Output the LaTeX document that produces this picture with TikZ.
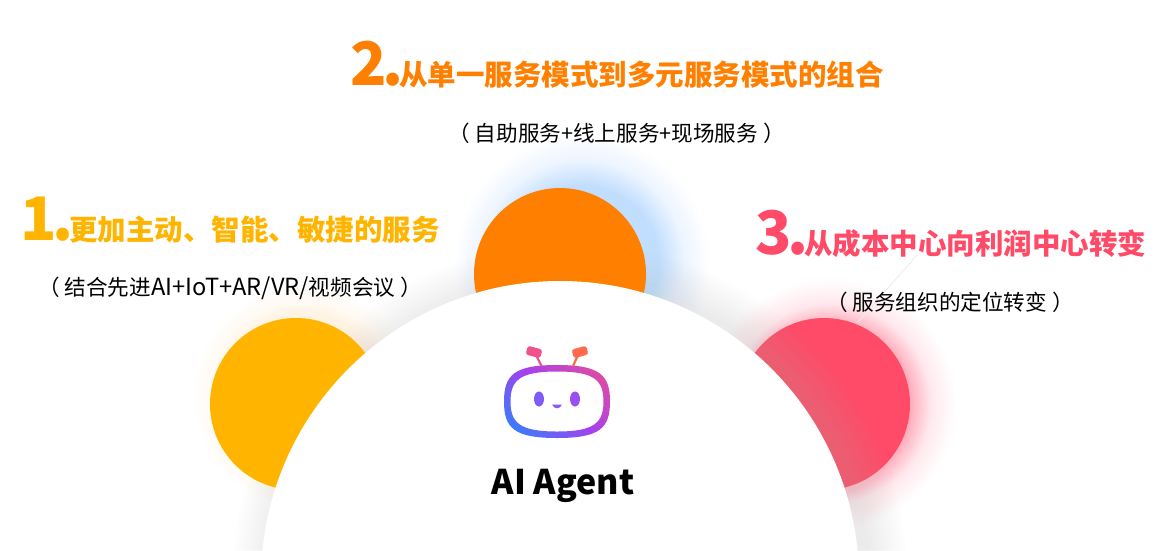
\documentclass[tikz,border=0pt]{standalone}
\usepackage{fontspec}
\setmainfont{Noto Sans CJK SC}
\definecolor{cyellow}{HTML}{FFB400}
\definecolor{corange}{HTML}{FF8000}
\definecolor{cred}{HTML}{FF4A68}
\definecolor{rbBlue}{HTML}{1E8CFF}
\definecolor{rbPurple}{HTML}{A640EE}
\definecolor{rbPink}{HTML}{F0508C}
\definecolor{rbOrange}{HTML}{FF6A4D}
\definecolor{eyeL}{HTML}{7F5CF5}
\definecolor{eyeR}{HTML}{9A50F0}
\definecolor{mouthC}{HTML}{8A58F2}
\pgfdeclareradialshading{glowblue}{\pgfpoint{0bp}{0bp}}{rgb(0bp)=(0.76,0.87,1);rgb(15bp)=(0.76,0.87,1);rgb(20bp)=(0.93,0.96,1);rgb(25bp)=(1,1,1);rgb(100bp)=(1,1,1)}
\pgfdeclareradialshading{glowred}{\pgfpoint{0bp}{0bp}}{rgb(0bp)=(1,0.68,0.74);rgb(16bp)=(1,0.68,0.74);rgb(20bp)=(1,0.91,0.93);rgb(25bp)=(1,1,1);rgb(100bp)=(1,1,1)}
\pgfdeclareradialshading{glowyellow}{\pgfpoint{0bp}{0bp}}{rgb(0bp)=(1,0.95,0.88);rgb(18bp)=(1,0.95,0.88);rgb(21bp)=(1,0.98,0.95);rgb(25bp)=(1,1,1);rgb(100bp)=(1,1,1)}
\tikzset{
  bignum/.style={anchor=base west,inner sep=0pt,font=\fontsize{60}{60}\selectfont\bfseries},
  headline/.style={anchor=base west,inner sep=0pt,font=\fontsize{28.5}{30}\selectfont\bfseries},
  subline/.style={anchor=center,inner sep=0pt,text=black,font=\fontsize{21.6}{24}\selectfont},
  disc/.style={fill=#1},
  capbar/.style={rounded corners=2.5pt,fill=#1},
}
\newcommand{\pgap}{\hspace{5pt}}
\begin{document}
\begin{tikzpicture}[x=1pt,y=-1pt]
\useasboundingbox (0,0) rectangle (1176,550);
\fill[white] (0,0) rectangle (1176,550);
% glows
\shade[shading=glowblue] (582,262) circle (128);
\shade[shading=glowred] (830,404) circle (126);
\shade[shading=glowyellow] (304,396) circle (112);
% faint line
\coordinate (la) at (917,255);
\coordinate (lb) at (858,322);
\draw[black!7,line width=0.8pt] (la) -- (lb);
% disc under the shadow
\fill[disc=cred] (824,404) circle (86);
% soft shadow of the big circle
\foreach \r in {337,333,...,301}{
  \fill[black!27,opacity=0.022] (570,580) circle (\r);
}
% discs over the shadow
\fill[disc=cyellow] (296,404) circle (86);
\fill[disc=corange] (560,274) circle (86);
% big circle
\fill[white] (560,580) circle (299);
% robot
\begin{scope}[even odd rule]
  \clip (557,365) .. controls (600,365) and (610,375) .. (610,401.5)
        .. controls (610,428) and (600,438) .. (557,438)
        .. controls (514,438) and (504,428) .. (504,401.5)
        .. controls (504,375) and (514,365) .. (557,365) -- cycle
        (557,371.5) .. controls (594,371.5) and (603.5,380) .. (603.5,401.5)
        .. controls (603.5,423) and (594,431.5) .. (557,431.5)
        .. controls (520,431.5) and (510.5,423) .. (510.5,401.5)
        .. controls (510.5,380) and (520,371.5) .. (557,371.5) -- cycle;
  \shade[shading=axis,bottom color=rbBlue,top color=rbPink,middle color=rbPurple,shading angle=-42] (485,340) rectangle (630,460);
\end{scope}
\coordinate (al1) at (541.5,366);
\coordinate (al2) at (535.5,354);
\coordinate (ar1) at (573,366);
\coordinate (ar2) at (578.5,354);
\draw[rbPink,line width=2.2pt] (al1) -- (al2);
\draw[rbOrange,line width=2.2pt] (ar1) -- (ar2);
\fill[capbar=rbPink,rotate around={-15:(534,352)}] (526.5,347.5) rectangle (541.5,356.5);
\fill[capbar=rbOrange,rotate around={15:(580,352)}] (572.5,347.5) rectangle (587.5,356.5);
\fill[eyeL] (539,399) ellipse (5 and 7.5);
\fill[eyeR] (575,399) ellipse (5 and 7.5);
\fill[mouthC] (552,404.5) .. controls (554,409.5) and (560,409.5) .. (562,404.5) -- cycle;
% texts
\node[anchor=center,inner sep=0pt,text=black,font=\fontsize{34}{36}\selectfont\bfseries] (agent) at (563,486) {AI Agent};
\node[bignum,text=corange] (n2) at (350,85) {2\kern-4pt.};
\node[headline,text=corange] (t2) at (399,85) {从单一服务模式到多元服务模式的组合};
\node[subline] (s2) at (616.5,133) {（\pgap 自助服务+线上服务+现场服务\pgap ）};
\node[bignum,text=cyellow] (n1) at (20,240) {1\kern-4pt.};
\node[headline,text=cyellow] (t1) at (69,240) {更加主动、智能、敏捷的服务};
\node[subline] (s1) at (230,288) {（\pgap 结合先进{\fontsize{23.6}{24}\selectfont AI+IoT+AR/VR/}视频会议\pgap ）};
\node[bignum,text=cred] (n3) at (755,254) {3\kern-4pt.};
\node[headline,text=cred] (t3) at (804,254) {从成本中心向利润中心转变};
\node[subline] (s3) at (950,302) {（\pgap 服务组织的定位转变\pgap ）};
\end{tikzpicture}
\end{document}
